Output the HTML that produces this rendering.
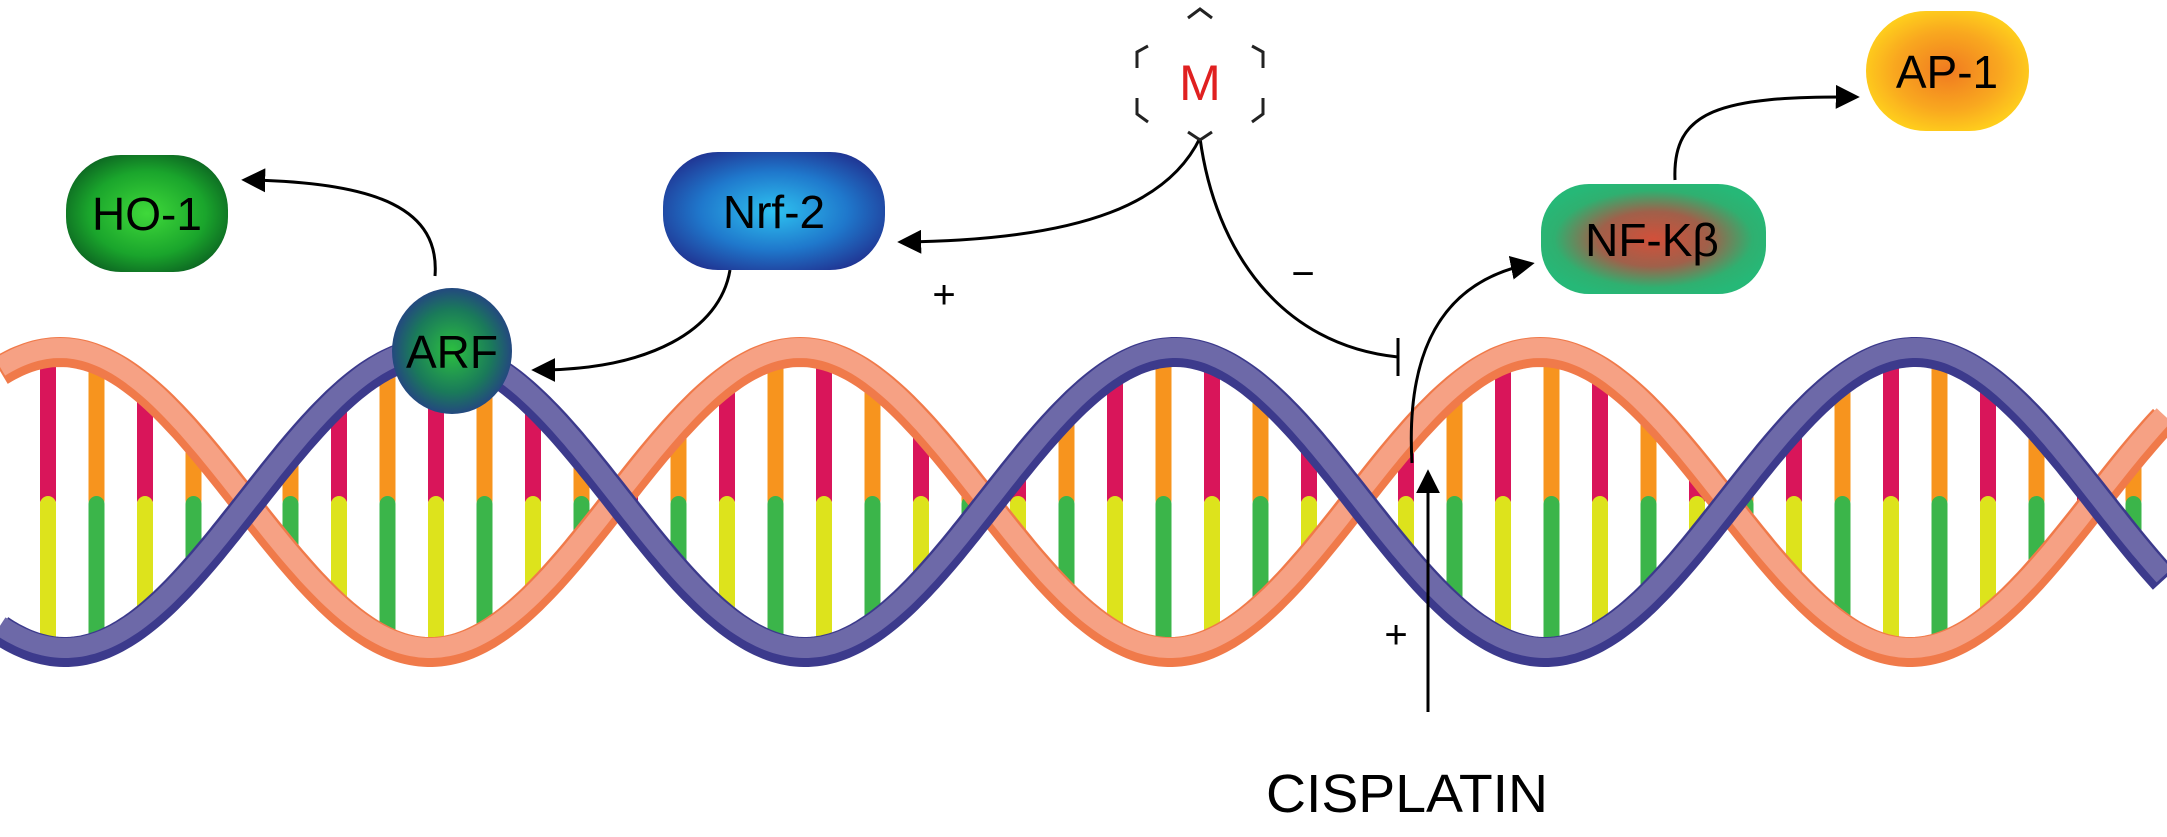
<!DOCTYPE html>
<html><head><meta charset="utf-8"><style>
html,body{margin:0;padding:0;background:#fff;}
svg{display:block;}
text{font-family:"Liberation Sans",sans-serif;}
</style></head><body>
<svg id="s" width="2167" height="837" viewBox="0 0 2167 837" xmlns="http://www.w3.org/2000/svg">
<defs>
<radialGradient id="gHO" cx="50%" cy="50%" r="60%"><stop offset="0" stop-color="#3fd93a"/><stop offset="0.6" stop-color="#1aa52c"/><stop offset="1" stop-color="#0a5a20"/></radialGradient>
<radialGradient id="gNrf" cx="50%" cy="50%" r="60%"><stop offset="0" stop-color="#2ec2f0"/><stop offset="0.55" stop-color="#1f78cc"/><stop offset="1" stop-color="#20308f"/></radialGradient>
<radialGradient id="gARF" cx="50%" cy="50%" r="55%"><stop offset="0" stop-color="#2cc040"/><stop offset="0.6" stop-color="#1a7a5a"/><stop offset="1" stop-color="#263a8a"/></radialGradient>
<radialGradient id="gNF" cx="50%" cy="50%" r="55%"><stop offset="0" stop-color="#d2503a"/><stop offset="0.45" stop-color="#a0604a"/><stop offset="0.8" stop-color="#2fb070"/><stop offset="1" stop-color="#26b877"/></radialGradient>
<radialGradient id="gAP" cx="50%" cy="50%" r="55%"><stop offset="0" stop-color="#f07a20"/><stop offset="0.6" stop-color="#f9a81f"/><stop offset="1" stop-color="#ffd21c"/></radialGradient>
<marker id="ar" viewBox="0 0 10 10" refX="8" refY="5" markerWidth="8" markerHeight="8" orient="auto"><path d="M0,0 L10,5 L0,10 z" fill="#000"/></marker>
</defs>
<g id="dna"></g>
<g fill="none" stroke="#000" stroke-width="3">
<path d="M1200,138 C1170,200 1090,240 902,242" marker-end="url(#ar)"/>
<path d="M1200,138 C1215,250 1280,345 1398,357"/>
<path d="M1398,338 L1398,376"/>
<path d="M730,270 C720,330 650,370 536,370" marker-end="url(#ar)"/>
<path d="M435,276 C440,210 380,182 246,180" marker-end="url(#ar)"/>
<path d="M1428,712 L1428,474" marker-end="url(#ar)"/>
<path d="M1412,463 C1405,340 1450,280 1530,264" marker-end="url(#ar)"/>
<path d="M1675,180 C1672,110 1720,96 1855,97" marker-end="url(#ar)"/>
</g>
<g stroke="#222" stroke-width="3" fill="none">
<path d="M1188,18 L1200,9 L1212,18"/>
<path d="M1148,46 L1137,52 L1137,68"/>
<path d="M1252,46 L1263,52 L1263,68"/>
<path d="M1137,98 L1137,114 L1148,122"/>
<path d="M1263,98 L1263,114 L1252,122"/>
<path d="M1188,132 L1200,140 L1212,132"/>
</g>
<text x="1200" y="100" font-size="50" fill="#e02020" text-anchor="middle">M</text>
<rect x="66" y="155" width="162" height="117" rx="55" fill="url(#gHO)"/>
<text x="147" y="230" font-size="46" text-anchor="middle">HO-1</text>
<rect x="663" y="152" width="222" height="118" rx="55" fill="url(#gNrf)"/>
<text x="774" y="228" font-size="46" text-anchor="middle">Nrf-2</text>
<rect x="1541" y="184" width="225" height="110" rx="48" fill="url(#gNF)"/>
<text x="1652" y="256" font-size="46" text-anchor="middle">NF-Kβ</text>
<rect x="1866" y="11" width="163" height="120" rx="60" fill="url(#gAP)"/>
<text x="1947" y="88" font-size="46" text-anchor="middle">AP-1</text>
<text x="944" y="308" font-size="40" text-anchor="middle">+</text>
<text x="1303" y="287" font-size="40" text-anchor="middle">−</text>
<text x="1396" y="648" font-size="40" text-anchor="middle">+</text>
<text x="1407" y="812" font-size="54" text-anchor="middle" textLength="282" lengthAdjust="spacingAndGlyphs">CISPLATIN</text>
<g id="arf"><ellipse cx="452" cy="351" rx="60" ry="63" fill="url(#gARF)"/>
<text x="452" y="368" font-size="46" text-anchor="middle">ARF</text></g>
</svg>
<script>
(function(){
var ns="http://www.w3.org/2000/svg",g=document.getElementById("dna");
var mid=502,A=150,P=740,pc=435,oc=800;
function yp(x){return mid-A*Math.cos(2*Math.PI*(x-pc)/P);}
function yo(x){return mid-A*Math.cos(2*Math.PI*(x-oc)/P);}
function el(n,a){var e=document.createElementNS(ns,n);for(var k in a)e.setAttribute(k,a[k]);g.appendChild(e);return e;}
var i=0;
for(var x=48;x<2160;x+=48.5,i++){
 var a=yp(x),b=yo(x),t=Math.min(a,b)+6,bt=Math.max(a,b)-6;
 if(bt-t<10)continue;
 var up=(i%2==0)?"#d9155a":"#f7941e",lo=(i%2==0)?"#dde31c":"#3bb54a";
 if(t<mid) el("line",{x1:x,y1:t,x2:x,y2:Math.min(mid-2,bt),stroke:up,"stroke-width":16,"stroke-linecap":"round"});
 if(bt>mid) el("line",{x1:x,y1:Math.max(mid+2,t),x2:x,y2:bt,stroke:lo,"stroke-width":16,"stroke-linecap":"round"});
}
function path(f,x0,x1){var d="";for(var x=x0;x<=x1;x+=4){d+=(x==x0?"M":"L")+x+","+f(x).toFixed(1);}return d;}
function strand(f,c1,c2){
 el("path",{d:path(f,0,2167),fill:"none",stroke:c2,"stroke-width":30});
 el("path",{d:path(f,0,2167),fill:"none",stroke:c1,"stroke-width":20,transform:"translate(0,-4)"});
}
strand(yo,"#f6a184","#f07a4a");
strand(yp,"#6d69a8","#3c3a8c");
})();
</script>
</body></html>
